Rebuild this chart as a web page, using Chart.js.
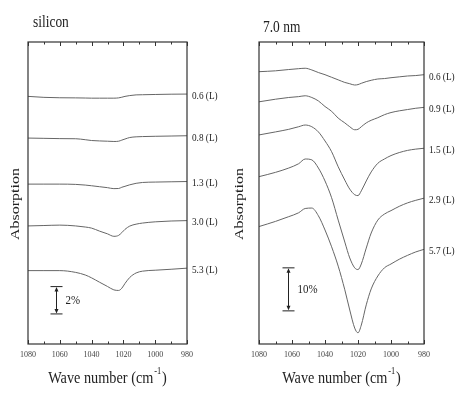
<!DOCTYPE html>
<html>
<head>
<meta charset="utf-8">
<script src="https://cdn.jsdelivr.net/npm/chart.js@4.4.1/dist/chart.umd.min.js"></script>
<style>
  html, body { margin: 0; padding: 0; background: #fff; }
  #wrap { position: relative; width: 462px; height: 396px; overflow: hidden; }
  .panel { position: absolute; top: 0; width: 231px; height: 396px; }
  #left { left: 0; }
  #right { left: 231px; }
</style>
</head>
<body>
<div id="wrap">
  <div class="panel" id="left"><canvas id="cLeft" width="231" height="396"></canvas></div>
  <div class="panel" id="right"><canvas id="cRight" width="231" height="396"></canvas></div>
</div>
<script>
// ── Data ──────────────────────────────────────────────────────────────────
// wave numbers in cm-1, absorption in % (curves are stacked with offsets)
var xTickLabels = [1080, 1060, 1040, 1020, 1000, 980];

var siWave = [1080, 1070, 1060, 1050, 1044, 1040, 1035, 1030, 1026, 1023, 1021, 1019, 1016, 1012, 1008, 1000, 990, 980];
var siNames = ['0.6 (L)', '0.8 (L)', '1.3 (L)', '3.0 (L)', '5.3 (L)'];
var si06 = [18.12, 18.05, 18.02, 18.01, 18.00, 17.99, 17.99, 17.99, 17.99, 18.01, 18.06, 18.12, 18.18, 18.23, 18.24, 18.26, 18.28, 18.29];
var si08 = [15.07, 15.05, 15.03, 15.02, 14.95, 14.89, 14.86, 14.84, 14.82, 14.84, 14.92, 15.00, 15.11, 15.16, 15.18, 15.20, 15.22, 15.24];
var si13 = [11.70, 11.70, 11.70, 11.68, 11.63, 11.58, 11.51, 11.44, 11.37, 11.38, 11.47, 11.54, 11.65, 11.76, 11.82, 11.85, 11.87, 11.89];
var si30 = [8.64, 8.67, 8.70, 8.64, 8.56, 8.48, 8.26, 8.06, 7.88, 7.95, 8.15, 8.39, 8.63, 8.77, 8.85, 8.94, 9.00, 9.03];
var si53 = [5.37, 5.37, 5.37, 5.24, 5.05, 4.84, 4.52, 4.21, 3.96, 3.92, 4.08, 4.43, 4.87, 5.20, 5.33, 5.40, 5.47, 5.55];

var nmWave = [1080, 1070, 1062, 1056, 1052, 1048, 1044, 1040, 1036, 1032, 1028, 1025, 1022, 1020, 1018, 1015, 1012, 1008, 1004, 1000, 995, 990, 985, 980];
var nmNames = ['0.6 (L)', '0.9 (L)', '1.5 (L)', '2.9 (L)', '5.7 (L)'];
var nm06 = [63.3, 63.5, 63.8, 64.0, 64.1, 63.7, 63.1, 62.6, 62.0, 61.4, 60.8, 60.5, 60.2, 60.3, 60.6, 61.0, 61.3, 61.6, 61.7, 61.9, 62.1, 62.3, 62.4, 62.6];
var nm09 = [56.3, 56.9, 57.3, 57.5, 57.7, 57.3, 56.5, 55.2, 54.1, 52.5, 51.4, 50.5, 49.8, 49.9, 50.5, 51.4, 52.0, 52.6, 53.3, 53.8, 54.2, 54.5, 54.8, 55.0];
var nm15 = [48.6, 49.3, 49.9, 50.5, 50.9, 50.5, 49.3, 47.2, 44.7, 41.2, 38.1, 36.0, 34.7, 34.5, 35.6, 37.9, 40.0, 42.0, 43.0, 43.8, 44.5, 45.0, 45.3, 45.5];
var nm29 = [38.9, 39.9, 40.9, 41.9, 43.0, 42.8, 40.9, 37.9, 34.0, 28.8, 23.7, 20.0, 17.7, 17.3, 18.6, 22.3, 25.8, 28.8, 30.2, 31.0, 32.0, 32.8, 33.4, 33.9];
var nm57 = [27.3, 28.5, 29.6, 30.5, 31.5, 31.6, 29.8, 26.5, 22.6, 18.1, 12.6, 7.9, 3.7, 2.6, 4.4, 9.1, 12.8, 15.8, 17.7, 18.6, 19.7, 20.6, 21.4, 22.0];

// scale bars: [wave number, from %, to %]
var siBar = [1062.7, 2.2, 4.2];
var nmBar = [1062.2, 7.7, 17.7];

// ── Styles ────────────────────────────────────────────────────────────────
var SERIF = "'Liberation Serif', 'Times New Roman', serif";
var SQUEEZE = 0.84;          // the source figure is a bit narrow
var INK = '#222';
var CURVE = '#666';

function squeezeText(ctx, text, x, y, font, align, base) {
    ctx.save();
    ctx.font = font;
    ctx.fillStyle = INK;
    ctx.textAlign = align || 'left';
    ctx.textBaseline = base || 'alphabetic';
    ctx.translate(x, y);
    ctx.scale(SQUEEZE, 1);
    ctx.fillText(text, 0, 0);
    ctx.restore();
}

// ── Frame, ticks, labels, scale bar ───────────────────────────────────────
function decorations(cfg) {
    return {
        id: 'spectraDeco',
        afterDraw: function(chart) {
            var ctx = chart.ctx, a = chart.chartArea;
            var xs = chart.scales.x, ys = chart.scales.y;

            // frame
            ctx.save();
            ctx.strokeStyle = '#333';
            ctx.lineWidth = 1.2;
            ctx.strokeRect(a.left, a.top, a.right - a.left, a.bottom - a.top);

            // inner ticks top and bottom
            ctx.lineWidth = 1;
            for (var v = 980; v <= 1080; v += 10) {
                var px = Math.round(xs.getPixelForValue(v)) + 0.5;
                var len = v % 20 === 0 ? 4 : 2.5;
                ctx.beginPath();
                ctx.moveTo(px, a.bottom); ctx.lineTo(px, a.bottom - len);
                ctx.moveTo(px, a.top); ctx.lineTo(px, a.top + len);
                ctx.stroke();
            }
            ctx.restore();

            // curve labels at the right end
            chart.data.datasets.forEach(function(ds) {
                var last = ds.data[ds.data.length - 1];
                squeezeText(ctx, ds.label, a.right + 5, ys.getPixelForValue(last.y) + 2,
                    '11px ' + SERIF, 'left', 'middle');
            });

            // scale bar
            var bx = Math.round(xs.getPixelForValue(cfg.bar[0])) + 0.5;
            var y1 = ys.getPixelForValue(cfg.bar[2]);
            var y2 = ys.getPixelForValue(cfg.bar[1]);
            ctx.save();
            ctx.strokeStyle = INK;
            ctx.fillStyle = INK;
            ctx.lineWidth = 1;
            ctx.beginPath();
            ctx.moveTo(bx - 6, y1); ctx.lineTo(bx + 6, y1);
            ctx.moveTo(bx - 6, y2); ctx.lineTo(bx + 6, y2);
            ctx.moveTo(bx, y1 + 3); ctx.lineTo(bx, y2 - 3);
            ctx.stroke();
            ctx.beginPath();
            ctx.moveTo(bx, y1 + 0.5); ctx.lineTo(bx - 2, y1 + 5); ctx.lineTo(bx + 2, y1 + 5); ctx.closePath();
            ctx.moveTo(bx, y2 - 0.5); ctx.lineTo(bx - 2, y2 - 5); ctx.lineTo(bx + 2, y2 - 5); ctx.closePath();
            ctx.fill();
            ctx.restore();
            squeezeText(ctx, cfg.barText, bx + 9, (y1 + y2) / 2, '13px ' + SERIF, 'left', 'middle');

            // panel title
            squeezeText(ctx, cfg.title, a.left + cfg.titleDx, cfg.titleY, '16px ' + SERIF, 'left');

            // y title, rotated
            ctx.save();
            ctx.font = '16px ' + SERIF;
            ctx.fillStyle = INK;
            ctx.textAlign = 'center';
            ctx.textBaseline = 'middle';
            ctx.translate(cfg.yTitleX, 204);
            ctx.scale(SQUEEZE, 1);
            ctx.rotate(-Math.PI / 2);
            ctx.fillText('Absorption', 0, 0);
            ctx.restore();

            // x title with superscript
            ctx.save();
            var main = 'Wave number (cm', sup = '-1', close = ')';
            ctx.font = '17px ' + SERIF;
            var w1 = ctx.measureText(main).width, w3 = ctx.measureText(close).width;
            ctx.font = '10px ' + SERIF;
            var w2 = ctx.measureText(sup).width + 2;
            var total = (w1 + w2 + w3) * SQUEEZE;
            var x0 = (a.left + a.right) / 2 - total / 2;
            var base = 383;
            squeezeText(ctx, main, x0, base, '17px ' + SERIF, 'left');
            squeezeText(ctx, sup, x0 + (w1 + 1) * SQUEEZE, base - 9, '10px ' + SERIF, 'left');
            squeezeText(ctx, close, x0 + (w1 + w2) * SQUEEZE, base, '17px ' + SERIF, 'left');
            ctx.restore();
        }
    };
}

function makeChart(id, wave, names, series, yMax, cfg) {
    var datasets = series.map(function(vals, k) {
        return {
            label: names[k],
            data: wave.map(function(w, i) { return { x: w, y: vals[i] }; }),
            borderColor: CURVE,
            borderWidth: 1,
            pointRadius: 0,
            cubicInterpolationMode: 'monotone',
            fill: false
        };
    });
    return new Chart(document.getElementById(id), {
        type: 'line',
        data: { datasets: datasets },
        options: {
            responsive: false,
            animation: false,
            devicePixelRatio: 1,
            layout: { padding: cfg.padding },
            plugins: { legend: { display: false }, tooltip: { enabled: false } },
            scales: {
                x: {
                    type: 'linear',
                    reverse: true,
                    min: 980,
                    max: 1080,
                    afterBuildTicks: function(axis) {
                        axis.ticks = xTickLabels.map(function(v) { return { value: v }; });
                    },
                    // fixed axis height keeps the plot box where the figure has it
                    afterFit: function(axis) { axis.height = 14; },
                    grid: { display: false, drawTicks: false },
                    border: { display: false },
                    ticks: {
                        padding: 6,
                        maxRotation: 0,
                        autoSkip: false,
                        color: '#444',
                        font: { family: SERIF, size: 8 },
                        callback: function(v) { return String(v); }
                    }
                },
                y: { display: false, min: 0, max: yMax }
            }
        },
        plugins: [decorations(cfg)]
    });
}

makeChart('cLeft', siWave, siNames, [si06, si08, si13, si30, si53], 22.1, {
    padding: { left: 28, top: 42, right: 44, bottom: 38 },
    bar: siBar, barText: '2%',
    title: 'silicon', titleDx: 5, titleY: 27,
    yTitleX: 15
});

makeChart('cRight', nmWave, nmNames, [nm06, nm09, nm15, nm29, nm57], 70.2, {
    padding: { left: 28, top: 42, right: 38, bottom: 38 },
    bar: nmBar, barText: '10%',
    title: '7.0 nm', titleDx: 4, titleY: 32,
    yTitleX: 8
});
</script>
</body>
</html>
